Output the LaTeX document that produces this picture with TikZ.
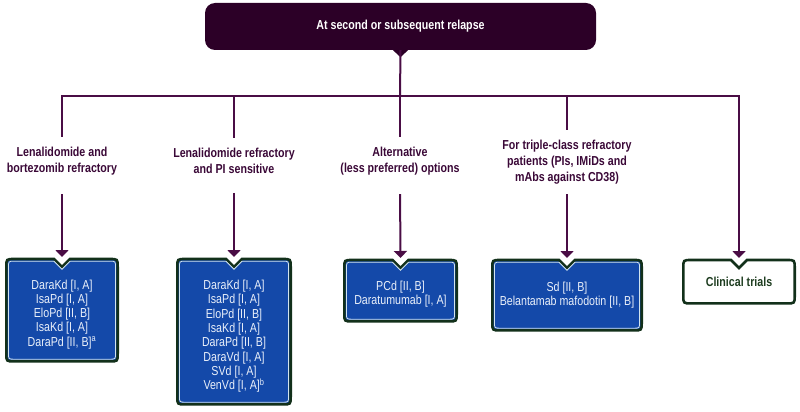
\documentclass[tikz,border=0pt]{standalone}
\usepackage{fontspec}
\setmainfont{Liberation Sans}[FakeStretch=0.82]
\usetikzlibrary{positioning, arrows.meta, backgrounds, calc}

\definecolor{plum}{HTML}{2C0027}
\definecolor{wire}{HTML}{4A0D45}
\definecolor{labelink}{HTML}{3A0837}
\definecolor{boxblue}{HTML}{1449A9}
\definecolor{boxgreen}{HTML}{12301A}
\definecolor{boxrim}{HTML}{D2E4EE}
\definecolor{boxink}{HTML}{EAF0FA}
\definecolor{trialink}{HTML}{1E3D20}

\tikzset{
  topbox/.style={fill=plum, rounded corners=10, text=white, inner sep=0, font=\bfseries\fontsize{13}{16}\selectfont},
  branch/.style={align=center, text=labelink, inner sep=0, outer ysep=10, font=\bfseries\fontsize{13}{16}\selectfont},
  txbox/.style={align=center, text=boxink, inner sep=0, anchor=north, font=\fontsize{13}{14.3}\selectfont},
  conn/.style={draw=wire, line width=2},
  arr/.style={conn, -{Triangle[width=13pt,length=7pt]}, shorten >=2},
  boxedge/.style={draw=boxgreen, line width=2.6},
  rim/.style={draw=boxrim, line width=0.8},
}

% strut that lowers the text of a box
\newcommand{\padtop}[1]{\rule{0pt}{#1pt}}

% outline of a box with a notch in its top side: node, inset, radius
\newcommand{\notchpath}[3]{($(#1.north west)+(#2pt+#3pt,-#2pt)$)
  -- ($(#1.north)+(-8pt,-#2pt)$) -- ($(#1.north)+(0pt,-8pt-#2pt)$) -- ($(#1.north)+(8pt,-#2pt)$)
  -- ($(#1.north east)+(-#2pt-#3pt,-#2pt)$) .. controls ($(#1.north east)+(-#2pt,-#2pt)$) .. ($(#1.north east)+(-#2pt,-#2pt-#3pt)$)
  -- ($(#1.south east)+(-#2pt,#2pt+#3pt)$) .. controls ($(#1.south east)+(-#2pt,#2pt)$) .. ($(#1.south east)+(-#2pt-#3pt,#2pt)$)
  -- ($(#1.south west)+(#2pt+#3pt,#2pt)$) .. controls ($(#1.south west)+(#2pt,#2pt)$) .. ($(#1.south west)+(#2pt,#2pt+#3pt)$)
  -- ($(#1.north west)+(#2pt,-#2pt-#3pt)$) .. controls ($(#1.north west)+(#2pt,-#2pt)$) .. ($(#1.north west)+(#2pt+#3pt,-#2pt)$) -- cycle}

\begin{document}
\begin{tikzpicture}[x=1pt, y=-1pt]
    \useasboundingbox (0,0) rectangle (800,412);
    \node (top) [topbox, minimum width=391, minimum height=47] at (400.5,26.5) {At second or subsequent relapse};
    \coordinate (bar) at (400,96);

    \node (l1) [branch] at (62,161) {Lenalidomide and\\bortezomib refractory};
    \node (l2) [branch] at (234,161) {Lenalidomide refractory\\and PI sensitive};
    \node (l3) [branch] at (400,161) {Alternative\\(less preferred) options};
    \node (l4) [branch] at (567,162) {For triple-class refractory\\patients (PIs, IMiDs and\\mAbs against CD38)};

    \node (b1) [txbox, minimum width=111, minimum height=102] at (62,259) {\padtop{17.5}DaraKd [I, A]\\IsaPd [I, A]\\EloPd [II, B]\\IsaKd [I, A]\\DaraPd [II, B]\textsuperscript{a}};
    \node (b2) [txbox, minimum width=113, minimum height=145] at (234,259) {\padtop{18.5}DaraKd [I, A]\\IsaPd [I, A]\\EloPd [II, B]\\IsaKd [I, A]\\DaraPd [II, B]\\DaraVd [I, A]\\SVd [I, A]\\VenVd [I, A]\textsuperscript{b}};
    \node (b3) [txbox, minimum width=112, minimum height=61] at (400.5,260) {\padtop{16}PCd [II, B]\\Daratumumab [I, A]};
    \node (b4) [txbox, minimum width=149, minimum height=70] at (567,260) {Sd [II, B]\\Belantamab mafodotin [II, B]};
    \node (b5) [txbox, text=trialink, font=\bfseries\fontsize{13}{14.3}\selectfont, minimum width=111, minimum height=43] at (739,260) {Clinical trials};

    \begin{scope}[on background layer]
        \foreach \n in {b1,b2,b3,b4} {
            \draw[boxedge, fill=boxblue] \notchpath{\n}{0}{8};
            \draw[rim] \notchpath{\n}{2.2}{6};
        }
        \draw[boxedge, fill=white] \notchpath{b5}{0}{8};
    \end{scope}

    \fill[plum] ([shift={(-8,-0.5)}]top.south) -- ([shift={(0,7)}]top.south) -- ([shift={(8,-0.5)}]top.south) -- cycle;
    \draw[conn] (top.south) -- (bar);
    \draw[conn] (l1.north) |- (bar);
    \foreach \n in {l2,l3,l4} \draw[conn] (bar -| \n.north) -- (\n.north);
    \draw[arr] (bar) -| (b5.north);
    \foreach \n/\s in {1/9,2/9,3/9,4/0} \draw[arr, shorten <=\s] (l\n.south) -- (b\n.north);
\end{tikzpicture}
\end{document}
